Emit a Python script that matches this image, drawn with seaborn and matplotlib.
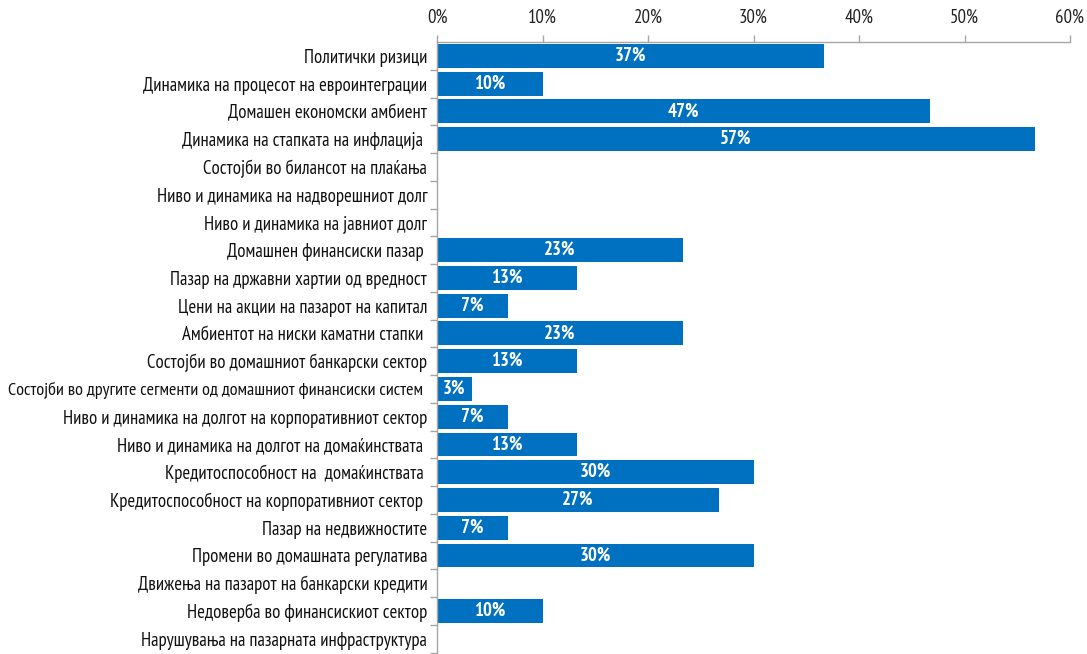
import matplotlib
matplotlib.use("Agg")
import matplotlib.pyplot as plt
import seaborn as sns
import pandas as pd
import numpy as np
from matplotlib.ticker import PercentFormatter, FixedLocator

categories = [
    "Политички ризици",
    "Динамика на процесот на евроинтеграции",
    "Домашен економски амбиент",
    "Динамика на стапката на инфлација ",
    "Состојби во билансот на плаќања",
    "Ниво и динамика на надворешниот долг",
    "Ниво и динамика на јавниот долг",
    "Домашнен финансиски пазар ",
    "Пазар на државни хартии од вредност",
    "Цени на акции на пазарот на капитал",
    "Амбиентот на ниски каматни стапки ",
    "Состојби во домашниот банкарски сектор",
    "Состојби во другите сегменти од домашниот финансиски систем ",
    "Ниво и динамика на долгот на корпоративниот сектор",
    "Ниво и динамика на долгот на домаќинствата ",
    "Кредитоспособност на  домаќинствата ",
    "Кредитоспособност на корпоративниот сектор ",
    "Пазар на недвижностите",
    "Промени во домашната регулатива",
    "Движења на пазарот на банкарски кредити",
    "Недоверба во финансискиот сектор",
    "Нарушувања на пазарната инфраструктура",
]
values = [36.7, 10.0, 46.7, 56.7, 0, 0, 0, 23.3, 13.3, 6.7, 23.3, 13.3, 3.3,
          6.7, 13.3, 30.0, 26.7, 6.7, 30.0, 0, 10.0, 0]
x_ticks = [0, 10, 20, 30, 40, 50, 60]

df = pd.DataFrame({"cat": categories, "val": values})

sns.set_theme(style="white")
plt.rcParams["font.family"] = ["PT Sans Narrow", "DejaVu Sans"]

fig = plt.figure(figsize=(10.87, 6.54), dpi=100)
ax = fig.add_axes([437 / 1087, 0.0, (1070 - 437) / 1087, 1 - 42 / 654])

sns.barplot(data=df, y="cat", x="val", orient="h", color="#0070C0",
            saturation=1, width=0.86, ax=ax, edgecolor="none")

ax.set_xlim(0, 60)
ax.set_ylim(len(categories) - 0.5 + 0.05, -0.5)
ax.xaxis.tick_top()
ax.xaxis.set_label_position("top")
ax.xaxis.set_major_locator(FixedLocator(x_ticks))
ax.xaxis.set_major_formatter(PercentFormatter(decimals=0))
ax.set_xlabel("")
ax.set_ylabel("")

for s in ["right", "bottom"]:
    ax.spines[s].set_visible(False)
for s in ["top", "left"]:
    ax.spines[s].set_color("#A6A6A6")
    ax.spines[s].set_linewidth(1.0)

ax.tick_params(axis="x", which="major", length=5, color="#A6A6A6", width=1,
               labelsize=13.5, labelcolor="#222222", pad=6, direction="out")
ax.tick_params(axis="y", which="major", length=0, labelsize=13.5,
               labelcolor="#111111", pad=7)
ax.set_yticks(np.arange(len(categories)) + 0.5, minor=True)
ax.tick_params(axis="y", which="minor", length=5, color="#A6A6A6", width=1,
               direction="out", left=True)

# the longest label is drawn slightly narrower so it fits, as in the reference
long_idx = max(range(len(categories)), key=lambda i: len(categories[i]))
ax.get_yticklabels()[long_idx].set_fontsize(13.1)

labels = [f"{round(v):d}%" if v > 0 else "" for v in values]
ax.bar_label(ax.containers[0], labels=labels, label_type="center",
             color="white", fontweight="bold", fontsize=13.5)

fig.savefig("out.png", dpi=100)
